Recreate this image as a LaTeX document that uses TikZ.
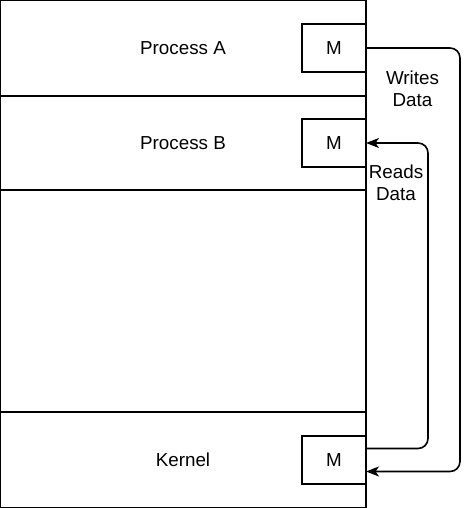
\documentclass[tikz,border=0pt]{standalone}
\usepackage{fontspec}
\setmainfont{Liberation Sans}
\usetikzlibrary{
  positioning,
  calc,
  arrows.meta,
}
\tikzset{
  x=1pt, y=1pt,
  node distance=0pt and 0pt,
  >={Stealth[length=13pt,width=10pt,inset=3.5pt]},
  every node/.style={font=\fontsize{18.8}{22}\selectfont, outer sep=0pt},
  layer/.style={
    rectangle,
    draw,
    line width=1.7pt,
    minimum width=366pt,
  },
  membox/.style={
    rectangle,
    draw,
    line width=1.7pt,
    minimum width=64pt,
    minimum height=48pt,
  },
  flow/.style={
    ->,
    line width=1.6pt,
    rounded corners=10pt,
  },
  note/.style={
    align=center,
    inner sep=0pt,
  },
}
\begin{document}
\begin{tikzpicture}
  \useasboundingbox (0,0) rectangle (474,508);
  \fill[white] (0,0) rectangle (474,508);

  % memory layers
  \node[layer, minimum height=96pt] (procA) at (183,460) {Process A};
  \node[layer, minimum height=94pt, below=of procA] (procB) {Process B};
  \node[layer, minimum height=222pt, below=of procB] (free) {};
  \node[layer, minimum height=96pt, below=of free] (kernel) {Kernel};

  % shared memory blocks
  \node[membox, left=of procA.east] (mA) {M};
  \node[membox, left=of procB.east] (mB) {M};
  \node[membox, left=of kernel.east] (mK) {M};

  \draw[flow] (mA.east) -- ++(94,0) |- ([yshift=-11.5pt]mK.east);
  \draw[flow] ([yshift=11.5pt]mK.east) -- ++(62,0) |- (mB.east);

  \node[note] (writes) at (412.5,419) {Writes\\Data};
  \node[note] (reads) at (396,325) {Reads\\Data};
\end{tikzpicture}
\end{document}
